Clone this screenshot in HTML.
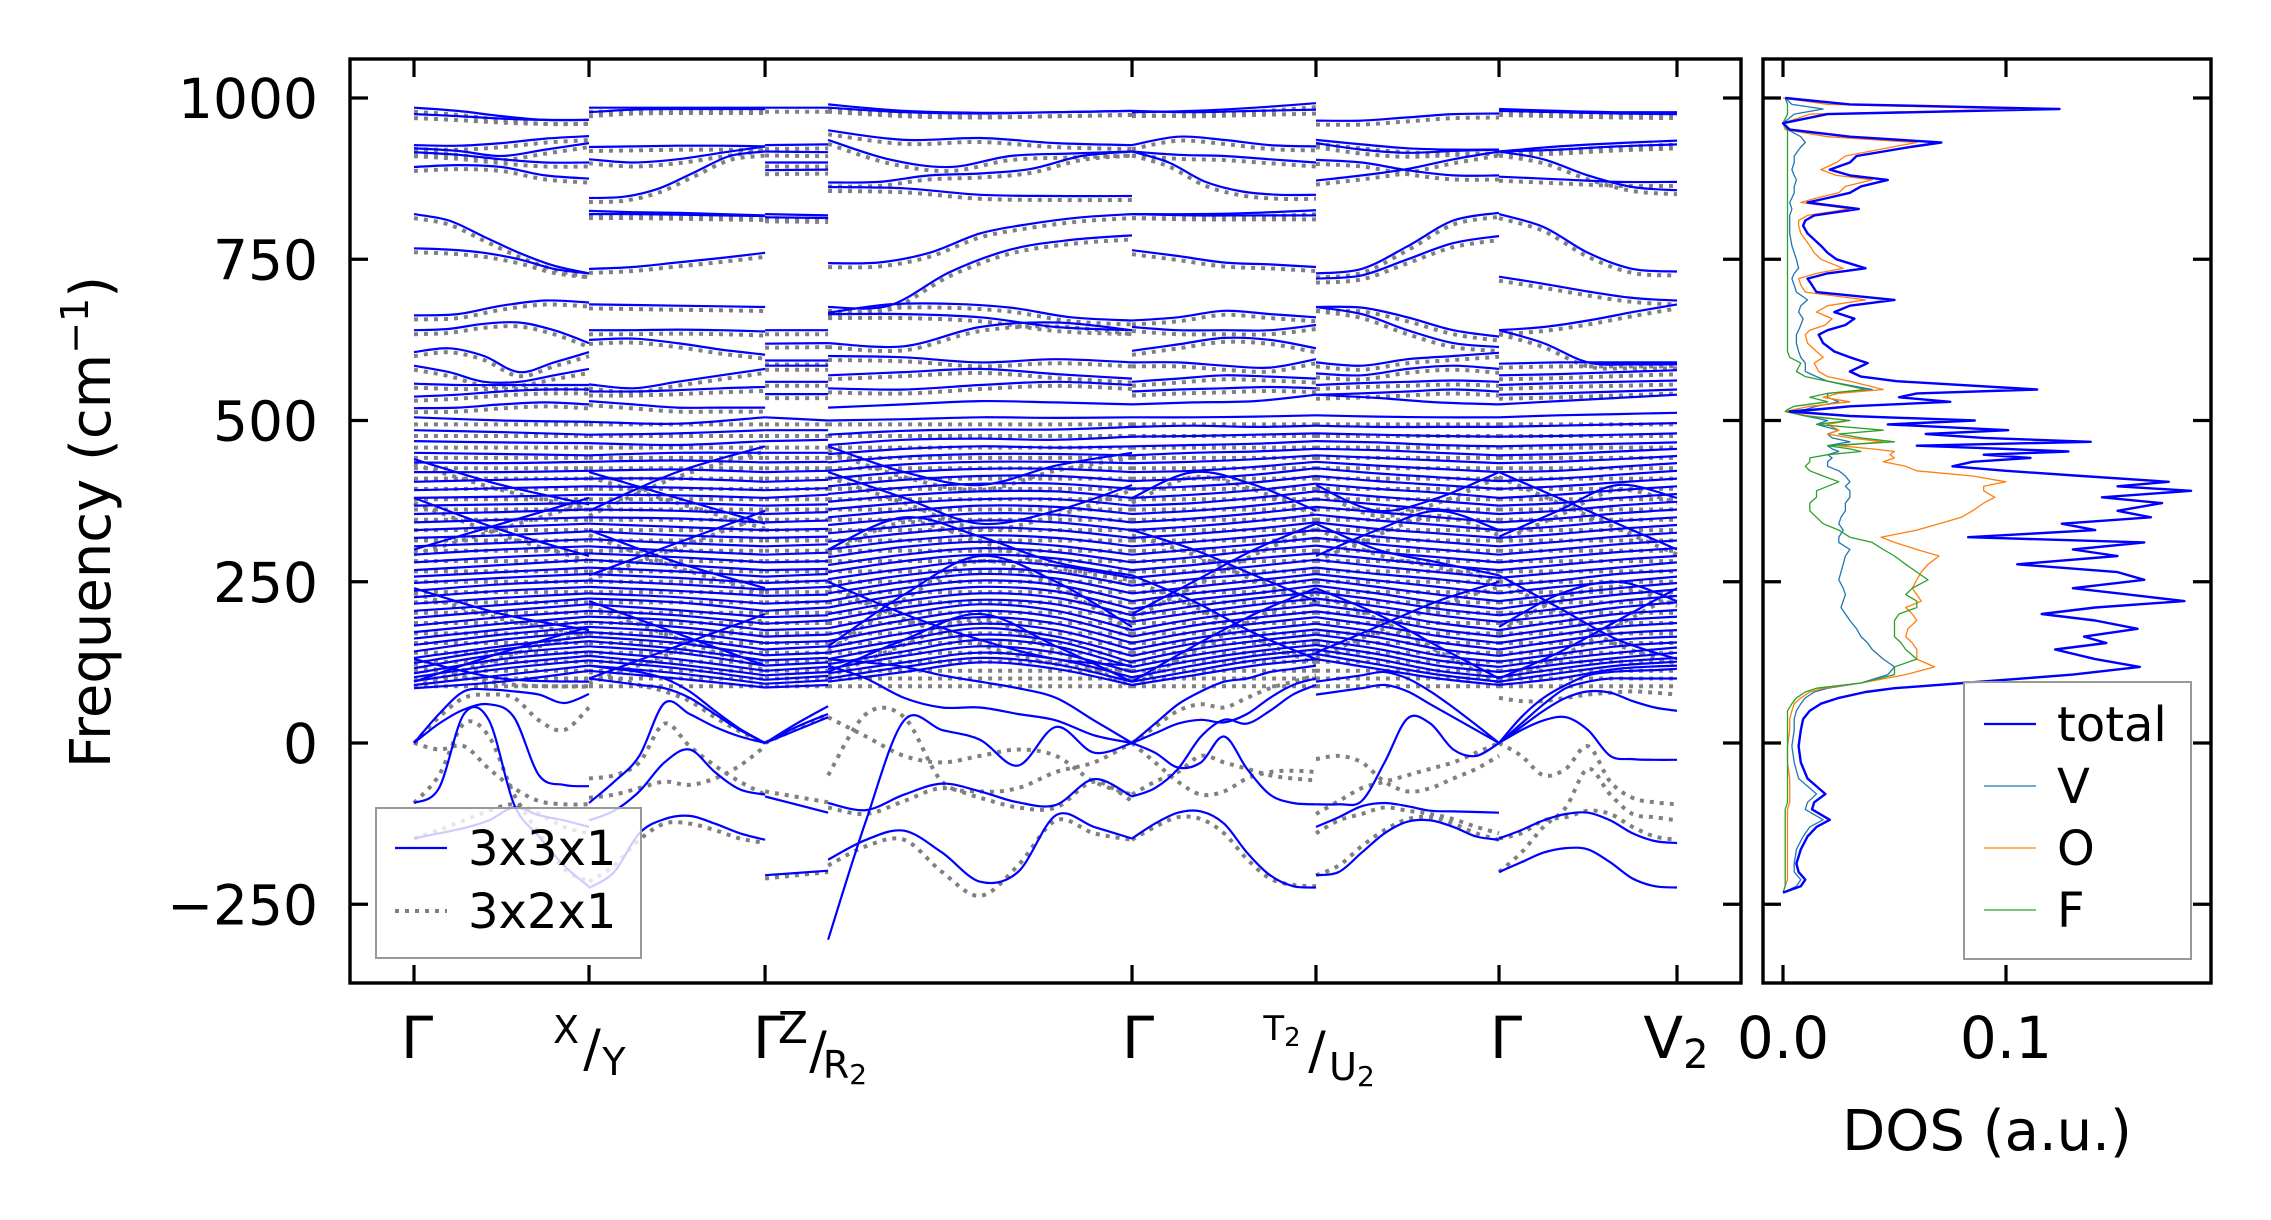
<!DOCTYPE html>
<html><head><meta charset="utf-8">
<style>
html,body{margin:0;padding:0;background:#fff;}
svg{display:block;font-family:"DejaVu Sans","Liberation Sans",sans-serif;}
</style></head>
<body>
<svg id="chart" xmlns="http://www.w3.org/2000/svg" width="2271" height="1220" viewBox="0 0 2271 1220">
<rect x="0" y="0" width="2271" height="1220" fill="#fff"/>
<defs>
<clipPath id="clipL"><rect x="350" y="59" width="1391" height="924"/></clipPath>
<clipPath id="clipR"><rect x="1763" y="59" width="448" height="924"/></clipPath>
</defs>
<g id="bandGray" clip-path="url(#clipL)"></g>
<g id="bandBlue" clip-path="url(#clipL)"></g>
<g id="dosG" clip-path="url(#clipR)"></g>
<g id="axes"></g>

<text x="0" y="0" transform="translate(110,522) rotate(-90)" text-anchor="middle" font-size="56">Frequency (cm<tspan dy="-22" font-size="38">−1</tspan><tspan dy="22">)</tspan></text>
<text x="1987" y="1150" text-anchor="middle" font-size="56">DOS (a.u.)</text>

<g font-size="58">
<text x="417" y="1058" text-anchor="middle">Γ</text>
<text x="566" y="1043" text-anchor="middle" font-size="38">X</text>
<text x="592" y="1066" text-anchor="middle" font-size="52">/</text>
<text x="614" y="1075" text-anchor="middle" font-size="38">Y</text>
<text x="769" y="1058" text-anchor="middle">Γ</text>
<text x="793" y="1043" text-anchor="middle" font-size="44">Z</text>
<text x="818" y="1068" text-anchor="middle" font-size="52">/</text>
<text x="845" y="1078" text-anchor="middle" font-size="38">R<tspan font-size="28" dy="6">2</tspan></text>
<text x="1138" y="1058" text-anchor="middle">Γ</text>
<text x="1282" y="1040" text-anchor="middle" font-size="34">T<tspan font-size="26" dy="6">2</tspan></text>
<text x="1317" y="1068" text-anchor="middle" font-size="52">/</text>
<text x="1352" y="1080" text-anchor="middle" font-size="38">U<tspan font-size="28" dy="6">2</tspan></text>
<text x="1506" y="1058" text-anchor="middle">Γ</text>
<text x="1676" y="1058" text-anchor="middle">V<tspan font-size="40" dy="10">2</tspan></text>
</g>

<g>
<rect x="376" y="808" width="265" height="150" fill="#fff" fill-opacity="0.8" stroke="#999" stroke-width="2"/>
<line x1="395" y1="848" x2="447" y2="848" stroke="#0000ff" stroke-width="2.2"/>
<text x="468" y="865" font-size="48">3x3x1</text>
<line x1="395" y1="911" x2="447" y2="911" stroke="#808080" stroke-width="4" stroke-dasharray="4 6"/>
<text x="468" y="928" font-size="48">3x2x1</text>
</g>

<g>
<rect x="1964" y="682" width="227" height="277" fill="#fff" fill-opacity="0.8" stroke="#999" stroke-width="2"/>
<line x1="1984" y1="724" x2="2036" y2="724" stroke="#0000ff" stroke-width="2.2"/>
<text x="2057" y="741" font-size="48">total</text>
<line x1="1984" y1="786" x2="2036" y2="786" stroke="#1f77b4" stroke-width="1.2"/>
<text x="2057" y="803" font-size="48">V</text>
<line x1="1984" y1="848" x2="2036" y2="848" stroke="#ff7f0e" stroke-width="1.2"/>
<text x="2057" y="865" font-size="48">O</text>
<line x1="1984" y1="910" x2="2036" y2="910" stroke="#2ca02c" stroke-width="1.2"/>
<text x="2057" y="927" font-size="48">F</text>
</g>
</svg>

<script>
// ---------- axis data ----------
const yTicks = [-250, 0, 250, 500, 750, 1000];
const yTickLabels = ["\u2212250", "0", "250", "500", "750", "1000"];
const kTicks = [0, 1, 2.006, 2.366, 4.103, 5.154, 6.2, 7.217];
const dosTicks = [0.0, 0.1];
const dosTickLabels = ["0.0", "0.1"];

const segments = [[0,1],[1,2],[2,3],[3,4],[4,5],[5,6],[6,7]];

// ---------- high-frequency bands per segment ----------
const highS1 = [[985,980,972,966,966],[975,972,968,966,966],[927,926,930,937,941],[922,918,910,920,930],[916,912,905,900,900],[893,896,893,880,875],[820,810,785,760,740,728],[767,765,760,750,735,728],[663,665,678,686,683],[640,642,650,652,640,620],[606,612,600,575,590,606],[585,575,560,560,570,580],[557,555,555,555,555],[537,540,545,548,548],[519,520,525,528,525]];
const highS2 = [[985,985,985,985,985],[978,982,983,983,983],[924,925,926,926,925],[905,900,905,915,925],[845,847,860,885,910,917],[820,820,819,818,817],[825,823,822,820,818],[735,738,745,752,760],[680,679,678,677,676],[640,640,641,640,638],[625,627,620,610,602],[556,550,560,570,580],[545,545,547,550,552],[530,525,520,520,520]];
const highS3 = [[985,985],[927,928],[917,916],[900,900],[888,889],[820,818],[815,814],[640,640],[619,620],[593,593],[585,585],[560,560],[541,541]];
const highS4 = [[990,980,977,978,980],[985,978,976,978,980],[950,935,938,930,927],[935,905,893,910,914,917],[869,870,880,883,890,910,917],[862,860,850,848,848],[744,745,760,790,805,815,820],[676,678,730,765,780,787],[667,680,681,675,660,655],[665,665,660,645,640],[620,615,645,652,640],[600,598,590,595,590],[570,575,580,572,565],[550,548,555,560,555]];
const highS5 = [[978,980,985,992],[980,978,980,982],[927,940,935,927,925],[917,912,910,905,900],[917,900,870,855,850,850],[820,820,822,826],[820,818,818,818],[764,755,745,742,738],[655,660,670,665,660],[645,640,640,640,648],[608,618,628,625,612],[590,590,585,582,595],[560,565,570,568,565],[545,548,550,552,550]];
const highS6 = [[965,965,970,975,976],[935,928,922,920,920],[930,920,915,918,920],[904,900,888,880,880],[872,880,890,905,917],[728,735,770,810,822],[720,725,750,775,786],[676,675,660,640,630],[676,665,640,620,614],[590,585,595,600,605],[573,570,580,585,580],[555,558,560,562,560],[540,542,545,548,545]];
const highS7 = [[980,978,976,975],[983,980,978,978],[917,925,930,934],[917,920,925,928],[878,874,870,870],[917,905,880,862,857],[820,800,760,735,731],[723,712,700,690,686],[640,645,655,668,680],[640,620,590,587,587],[588,590,590,590],[570,572,575,578],[555,558,560,562],[540,542,545,548]];
const highBands = [highS1, highS2, highS3, highS4, highS5, highS6, highS7];

// ---------- dense mid-frequency bands per segment ----------
const denseS1 = [[85,95,112],[90,105,120],[96,115,128],[102,122,135],[108,130,142],[116,138,150],[124,145,158],[132,150,165],[142,160,172],[152,168,180],[162,176,188],[172,185,196],[182,195,205],[194,205,215],[205,214,224],[216,225,232],[226,236,242],[236,246,252],[248,256,262],[258,265,272],[268,276,284],[280,288,294],[292,300,305],[305,310,316],[318,322,328],[330,335,340],[342,346,350],[355,358,362],[368,370,372],[380,382,385],[392,395,398],[405,408,410],[420,420,422],[435,434,436],[450,448,446],[468,466,465],[485,482,478],[505,500,498]];
const denseS2 = [[112,100,86],[120,108,92],[128,116,98],[135,122,105],[142,130,112],[150,140,120],[158,146,128],[165,155,136],[172,162,145],[180,172,155],[188,180,165],[196,190,175],[205,198,185],[215,206,195],[224,218,205],[232,226,216],[242,236,228],[252,246,238],[262,256,248],[272,266,258],[284,276,268],[294,288,280],[305,298,292],[316,310,305],[328,322,318],[340,335,330],[350,348,342],[362,360,355],[372,372,368],[385,384,380],[398,396,392],[410,410,405],[422,424,420],[436,438,435],[446,450,450],[465,462,468],[478,480,485],[498,495,505]];
const denseS3 = [[86,90],[92,97],[98,104],[105,110],[112,118],[120,125],[128,132],[136,140],[145,150],[155,158],[165,168],[175,178],[185,190],[195,198],[205,210],[216,220],[228,230],[238,242],[248,252],[258,262],[268,270],[280,282],[292,295],[305,308],[318,320],[330,332],[342,345],[355,358],[368,370],[380,385],[392,395],[405,408],[420,422],[435,436],[450,450],[468,470],[485,485],[505,500]];
const denseS4 = [[95,110,125,115,90],[100,118,132,122,95],[108,125,140,130,102],[115,135,150,140,110],[122,142,160,150,118],[130,152,168,158,125],[140,160,178,165,135],[148,170,185,175,145],[158,180,195,185,155],[168,190,205,195,165],[178,200,215,205,175],[190,210,222,215,188],[200,220,232,225,198],[210,230,242,235,208],[220,240,252,245,220],[232,250,262,255,232],[242,260,270,265,244],[254,270,282,275,256],[265,282,292,286,268],[276,292,302,296,280],[288,304,312,306,292],[300,314,322,318,305],[312,325,334,330,318],[325,336,345,342,330],[338,348,356,354,342],[350,360,368,366,355],[362,372,378,378,368],[374,384,390,390,380],[386,396,402,402,394],[398,408,414,414,406],[410,420,425,425,420],[422,432,436,436,434],[435,444,448,448,446],[448,456,460,458,460],[462,470,472,470,475],[478,484,486,486,490],[500,502,505,504,505],[520,525,530,528,525]];
const denseS5 = [[90,105,120,130],[95,112,128,138],[102,120,135,145],[110,128,142,152],[118,136,150,160],[126,145,158,168],[135,154,166,176],[145,162,175,185],[155,172,185,195],[165,182,194,204],[175,192,204,214],[188,202,214,224],[198,212,224,234],[208,222,232,244],[220,232,242,254],[232,242,252,262],[244,254,262,272],[256,265,274,284],[268,276,286,294],[280,288,298,306],[292,300,308,318],[305,312,320,330],[318,324,332,342],[330,336,344,354],[342,348,356,366],[355,360,368,378],[368,372,380,390],[380,385,392,402],[394,398,404,414],[406,410,416,426],[420,422,428,436],[434,436,440,446],[446,450,452,456],[460,462,464,468],[475,476,478,480],[490,492,490,492],[505,505,506,508],[525,528,530,540]];
const denseS6 = [[130,115,100,90],[138,122,106,95],[145,130,112,102],[152,138,120,110],[160,146,128,118],[168,155,136,126],[176,164,146,135],[185,172,156,145],[195,182,166,155],[204,192,176,165],[214,202,186,175],[224,212,198,188],[234,222,208,198],[244,232,218,208],[254,242,230,220],[262,252,242,232],[272,262,254,244],[284,274,265,256],[294,285,276,268],[306,296,288,280],[318,308,300,292],[330,320,312,305],[342,332,325,318],[354,345,338,330],[366,358,350,342],[378,370,362,355],[390,382,375,368],[402,394,388,380],[414,406,400,394],[426,418,412,406],[436,430,425,420],[446,442,438,434],[456,454,450,446],[468,466,462,460],[480,478,476,475],[492,490,490,490],[508,506,505,505],[540,535,528,525]];
const denseS7 = [[90,100,115,120],[95,108,120,126],[102,115,126,132],[110,122,132,140],[118,130,140,148],[126,138,150,156],[135,148,160,165],[145,158,170,175],[155,168,180,186],[165,178,190,196],[175,188,200,206],[188,198,210,218],[198,208,220,228],[208,220,230,238],[220,230,240,248],[232,242,250,258],[244,252,262,268],[256,264,272,280],[268,276,284,290],[280,288,296,302],[292,300,308,314],[305,312,320,326],[318,324,332,338],[330,336,344,350],[342,348,356,362],[355,360,368,374],[368,372,380,386],[380,385,392,398],[394,398,404,410],[406,410,416,422],[420,422,428,434],[434,436,440,445],[446,448,452,456],[460,462,464,466],[475,476,478,480],[490,492,494,496],[505,508,510,512],[525,530,535,540]];
const denseBands = [denseS1, denseS2, denseS3, denseS4, denseS5, denseS6, denseS7];

// crossing bands that cut through the dense region
const crossS1 = [[95,140,180],[130,100,95],[240,200,175],[300,340,380],[380,330,290],[440,400,370]];
const crossS2 = [[100,150,200],[220,170,120],[330,280,240],[260,310,360],[420,380,340],[360,420,460]];
const crossS3 = [];
const crossS4 = [[110,160,200,150,95],[250,200,160,130,120],[300,350,320,280,260],[420,380,340,360,400],[150,230,290,250,180],[460,420,400,430,450]];
const crossS5 = [[95,150,200,240],[260,220,170,130],[330,300,260,220],[380,420,400,360],[200,250,300,340]];
const crossS6 = [[240,200,150,100],[140,180,220,250],[340,300,280,260],[400,360,380,420],[290,330,360,330]];
const crossS7 = [[100,140,190,240],[260,210,160,130],[320,360,400,380],[420,380,340,300],[180,230,250,220]];
const crossBands = [crossS1, crossS2, crossS3, crossS4, crossS5, crossS6, crossS7];

const grayLevels = [88,100,112,126,140,155,170,186,202,218,234,250,266,282,298,314,330,346,362,378,394,410,426,442,458,476,494];

// ---------- low-frequency (soft) modes ----------
const lowBlueS1 = [[0,45,80,83,80,75,62,76],[0,30,52,60,40,-50,-65,-67],[-93,-70,45,35,-95,-145,-190,-223],[-148,-140,-132,-120,-100,-112,-120,-130]];
const lowBlueS2 = [[-93,-60,-20,62,45,25,10,0],[-120,-105,-75,-30,-10,-45,-72,-80],[-225,-200,-140,-118,-113,-125,-140,-150],[100,95,90,85,70,45,20,0],[120,115,110,100,80,50,22,0]];
const lowBlueS3 = [[0,30,57],[0,25,45],[0,20,40],[-83,-108],[-205,-198]];
const lowBlueS4 = [[-305,-120,35,20,5,-35,25,-15,0],[-93,-104,-80,-63,-75,-92,-96,-56,-83],[-181,-150,-136,-170,-215,-200,-112,-130,-148],[120,100,70,55,55,45,35,12,0],[130,125,118,105,95,85,70,35,0]];
const lowBlueS5 = [[0,-15,-38,-30,10,-40,-80,-93,-95],[-83,-70,-40,10,36,30,50,75,90],[-148,-125,-108,-106,-125,-170,-205,-222,-224],[0,30,60,80,95,100,110,115,120],[0,15,30,36,32,45,70,90,100]];
const lowBlueS6 = [[-95,-95,-90,-30,38,30,-10,-20,0],[-130,-115,-98,-93,-98,-105,-106,-107,-108],[-205,-200,-170,-140,-122,-120,-130,-145,-150],[95,100,105,110,100,80,55,28,0],[75,80,85,90,80,60,40,20,0]];
const lowBlueS7 = [[0,25,50,70,80,78,65,55,50],[0,20,35,40,20,-20,-25,-26,-26],[-148,-135,-120,-110,-108,-120,-140,-152,-155],[-200,-185,-170,-163,-165,-185,-210,-222,-224],[0,30,60,85,95,100,100,100,100],[0,40,70,90,105,110,112,113,115]];
const lowBlue = [lowBlueS1, lowBlueS2, lowBlueS3, lowBlueS4, lowBlueS5, lowBlueS6, lowBlueS7];

const lowGrayS1 = [[0,-10,-5,-40,-70,-90,-95,-95],[0,40,70,75,70,35,20,55],[-148,-135,-120,-105,-95,-110,-130,-140],[-93,-50,30,10,-80,-140,-195,-215]];
const lowGrayS2 = [[-55,-50,-30,30,-5,-35,-60,-80],[-85,-80,-70,-60,-65,-55,-35,-5],[-215,-190,-150,-125,-125,-135,-148,-155],[110,100,90,80,65,40,18,0]];
const lowGrayS3 = [[-75,-92],[0,22,45],[-210,-200]];
const lowGrayS4 = [[-50,45,40,-60,-75,-70,-45,-30,0],[-190,-160,-150,-200,-237,-190,-120,-140,-150],[40,10,-20,-30,-20,-10,-20,-60,-80],[-100,-110,-90,-70,-85,-100,-100,-60,-90]];
const lowGrayS5 = [[-150,-130,-115,-118,-140,-180,-210,-220,-222],[-80,-60,-45,-20,-30,-40,-50,-55,-58],[0,-30,-60,-80,-75,-55,-45,-43,-45],[0,25,50,60,55,70,85,95,105]];
const lowGrayS6 = [[-110,-90,-70,-60,-50,-40,-30,-15,0],[-140,-120,-110,-100,-105,-110,-118,-130,-140],[-205,-190,-160,-135,-118,-115,-125,-140,-150],[-25,-20,-30,-60,-75,-70,-55,-40,-20]];
const lowGrayS7 = [[-148,-140,-120,-115,-105,-110,-130,-145,-150],[0,-20,-50,-40,-5,-60,-85,-92,-95],[-200,-170,-130,-100,-40,-80,-110,-115,-120],[70,65,65,70,75,78,80,78,75]];
const lowGray = [lowGrayS1, lowGrayS2, lowGrayS3, lowGrayS4, lowGrayS5, lowGrayS6, lowGrayS7];

// ---------- DOS data ----------
const dosFreq = [1000,990,983,975,961,951,940,931,924,910, 900,889,880,873,863,853,845,838,828,818, 810,802,790,771,760,750,736,728,720,710, 699,687,678,668,658,648,640,633,620,607, 598,589,576,568,561,548,542,536,529,522, 517,514,507,500,494,485,479,473,467,461, 456,452,447,442,436,429,422,414,405,398, 391,381,372,360,350,340,330,319,311,300, 290,277,265,253,240,230,220,210,200,190, 177,165,155,145,130,118,106,93,85,79, 70,61,50,37,20,-5,-30,-55,-79,-92, -103,-119,-130,-145,-165,-187,-200,-212,-222,-232];
const dosTotal = [0.001,0.03,0.124,0.02,0.0,0.003,0.03,0.071,0.057,0.033, 0.03,0.021,0.03,0.047,0.035,0.030,0.02,0.011,0.034,0.014, 0.01,0.009,0.011,0.017,0.02,0.024,0.037,0.02,0.011,0.013, 0.015,0.05,0.03,0.023,0.032,0.028,0.02,0.016,0.018,0.023, 0.03,0.038,0.03,0.035,0.051,0.114,0.06,0.052,0.075,0.03, 0.015,0.003,0.03,0.086,0.047,0.101,0.064,0.09,0.138,0.06, 0.1,0.128,0.09,0.111,0.085,0.076,0.1,0.134,0.173,0.15, 0.183,0.143,0.17,0.15,0.165,0.125,0.14,0.083,0.162,0.13, 0.15,0.105,0.15,0.162,0.13,0.155,0.18,0.14,0.116,0.14, 0.159,0.135,0.145,0.122,0.14,0.16,0.13,0.081,0.05,0.037, 0.025,0.017,0.012,0.009,0.008,0.007,0.008,0.011,0.019,0.014, 0.013,0.021,0.015,0.011,0.008,0.006,0.007,0.01,0.008,0.0];
const dosV = [0.001,0.004,0.018,0.005,0.0,0.002,0.008,0.01,0.008,0.005, 0.005,0.004,0.005,0.006,0.005,0.005,0.004,0.003,0.004,0.003, 0.003,0.003,0.003,0.004,0.005,0.006,0.007,0.005,0.004,0.005, 0.006,0.011,0.008,0.007,0.009,0.008,0.007,0.006,0.006,0.007, 0.008,0.01,0.01,0.015,0.02,0.04,0.02,0.02,0.025,0.015, 0.01,0.002,0.01,0.02,0.015,0.025,0.02,0.022,0.03,0.02, 0.022,0.025,0.02,0.022,0.02,0.02,0.025,0.028,0.03,0.028, 0.03,0.03,0.028,0.028,0.026,0.025,0.027,0.025,0.025,0.03, 0.028,0.027,0.026,0.025,0.027,0.028,0.027,0.026,0.028,0.03, 0.033,0.035,0.038,0.04,0.045,0.05,0.047,0.035,0.02,0.014, 0.01,0.008,0.006,0.005,0.005,0.004,0.005,0.007,0.015,0.011, 0.01,0.018,0.012,0.009,0.006,0.005,0.005,0.008,0.006,0.0];
const dosO = [0.0,0.02,0.104,0.012,0.0,0.001,0.02,0.06,0.049,0.028, 0.024,0.017,0.024,0.04,0.028,0.025,0.015,0.008,0.03,0.011, 0.007,0.007,0.008,0.012,0.014,0.017,0.027,0.015,0.007,0.008, 0.01,0.037,0.02,0.015,0.022,0.019,0.012,0.01,0.011,0.015, 0.018,0.014,0.016,0.02,0.03,0.045,0.025,0.018,0.03,0.012, 0.005,0.001,0.012,0.03,0.02,0.025,0.02,0.03,0.045,0.025, 0.04,0.05,0.048,0.05,0.045,0.055,0.06,0.085,0.1,0.09, 0.09,0.095,0.09,0.085,0.08,0.07,0.06,0.044,0.05,0.06, 0.07,0.065,0.062,0.06,0.058,0.06,0.062,0.055,0.058,0.06, 0.056,0.055,0.058,0.06,0.06,0.068,0.055,0.035,0.018,0.012, 0.008,0.005,0.004,0.003,0.003,0.002,0.002,0.003,0.003,0.003, 0.002,0.002,0.002,0.002,0.002,0.002,0.002,0.002,0.001,0.0];
const dosF = [0.001,0.002,0.002,0.002,0.0,0.002,0.002,0.002,0.002,0.002, 0.002,0.002,0.002,0.002,0.002,0.002,0.002,0.002,0.002,0.002, 0.002,0.002,0.002,0.002,0.002,0.002,0.002,0.002,0.002,0.002, 0.002,0.002,0.002,0.002,0.002,0.002,0.002,0.002,0.002,0.002, 0.003,0.008,0.006,0.01,0.02,0.037,0.02,0.012,0.02,0.005, 0.002,0.001,0.01,0.03,0.015,0.045,0.025,0.035,0.05,0.02, 0.03,0.035,0.02,0.012,0.012,0.01,0.012,0.018,0.025,0.02, 0.015,0.015,0.012,0.012,0.015,0.018,0.025,0.03,0.04,0.045, 0.05,0.055,0.06,0.065,0.058,0.055,0.06,0.06,0.052,0.05, 0.05,0.05,0.053,0.055,0.06,0.05,0.05,0.035,0.015,0.01, 0.006,0.004,0.002,0.002,0.002,0.002,0.002,0.002,0.002,0.002, 0.001,0.001,0.001,0.001,0.001,0.001,0.001,0.001,0.001,0.0];

// ---------- layout / scales ----------
const NS = "http://www.w3.org/2000/svg";
const L = {x0:350, x1:1741, y0:59, y1:983};
const R = {x0:1763, x1:2211};
function yV(v){ return 743 - 0.645*v; }
function xK(k){ return 414 + k*(1677-414)/7.217; }
function xD(d){ return 1783 + d*2230; }

function smoothPath(pts){
  let d = "M" + pts[0][0].toFixed(1) + "," + pts[0][1].toFixed(1);
  for(let i=0;i<pts.length-1;i++){
    const p0 = pts[Math.max(0,i-1)], p1 = pts[i], p2 = pts[i+1], p3 = pts[Math.min(pts.length-1,i+2)];
    const c1x = p1[0] + (p2[0]-p0[0])/6, c1y = p1[1] + (p2[1]-p0[1])/6;
    const c2x = p2[0] - (p3[0]-p1[0])/6, c2y = p2[1] - (p3[1]-p1[1])/6;
    d += " C" + c1x.toFixed(1)+","+c1y.toFixed(1)+" "+c2x.toFixed(1)+","+c2y.toFixed(1)+" "+p2[0].toFixed(1)+","+p2[1].toFixed(1);
  }
  return d;
}
function bandPoints(segIdx, vals){
  const ka = kTicks[segments[segIdx][0]], kb = kTicks[segments[segIdx][1]];
  return vals.map((v,i)=>[xK(ka + (kb-ka)*i/(vals.length-1)), yV(v)]);
}
const gGray = document.getElementById('bandGray');
const gBlue = document.getElementById('bandBlue');
function addBand(parent, segIdx, vals, kind, shift){
  const p = document.createElementNS(NS,'path');
  p.setAttribute('d', smoothPath(bandPoints(segIdx, vals)));
  p.setAttribute('fill','none');
  if(kind==='blue'){
    p.setAttribute('stroke','#0000ff'); p.setAttribute('stroke-width','2.2');
    
  } else {
    p.setAttribute('stroke','#808080'); p.setAttribute('stroke-width','4');
    p.setAttribute('stroke-dasharray','4 6');
    
  }
  
  if(shift) p.setAttribute('transform','translate(0,'+shift+')');
  parent.appendChild(p);
}
for(let s=0;s<segments.length;s++){
  grayLevels.forEach(v=>addBand(gGray, s, [v, v], 'gray', 0));
  highBands[s].forEach(b=>addBand(gGray, s, b, 'gray', 4));
  crossBands[s].forEach(b=>addBand(gGray, s, b, 'gray', 5));
  lowGray[s].forEach(b=>addBand(gGray, s, b, 'gray', 0));
  denseBands[s].forEach(b=>addBand(gBlue, s, b, 'blue', 0));
  crossBands[s].forEach(b=>addBand(gBlue, s, b, 'blue', 0));
  highBands[s].forEach(b=>addBand(gBlue, s, b, 'blue', 0));
  lowBlue[s].forEach(b=>addBand(gBlue, s, b, 'blue', 0));
}

// ---------- DOS curves ----------
const dosG = document.getElementById('dosG');
function addDos(vals, color, width, name){
  const pl = document.createElementNS(NS,'polyline');
  pl.setAttribute('points', vals.map((d,i)=>xD(d).toFixed(1)+","+yV(dosFreq[i]).toFixed(1)).join(" "));
  pl.setAttribute('fill','none');
  pl.setAttribute('stroke', color);
  pl.setAttribute('stroke-width', width);
  pl.setAttribute('stroke-linejoin','round');
  
  
  dosG.appendChild(pl);
}
addDos(dosV, '#1f77b4', 1.3, 'dos-v');
addDos(dosO, '#ff7f0e', 1.3, 'dos-o');
addDos(dosF, '#2ca02c', 1.3, 'dos-f');
addDos(dosTotal, '#0000ff', 2.4, 'dos-total');

// ---------- axes ----------
const ax = document.getElementById('axes');
function line(x1,y1,x2,y2,w,name){
  const l = document.createElementNS(NS,'line');
  l.setAttribute('x1',x1); l.setAttribute('y1',y1); l.setAttribute('x2',x2); l.setAttribute('y2',y2);
  l.setAttribute('stroke','#000'); l.setAttribute('stroke-width',w);
  
  
  ax.appendChild(l);
}
function text(x,y,str,size,anchor,name){
  const t = document.createElementNS(NS,'text');
  t.setAttribute('x',x); t.setAttribute('y',y); t.setAttribute('font-size',size);
  t.setAttribute('text-anchor',anchor); t.textContent = str;
  
  
  ax.appendChild(t);
}
const TL = 18;
yTicks.forEach((v,i)=>{
  const y = yV(v);
  line(L.x0, y, L.x0+TL, y, 3.2, 'y-tick');
  line(L.x1-TL, y, L.x1, y, 3.2, 'y-tick-right');
  text(318, y+20, yTickLabels[i], 55, 'end', 'y-tick-label');
  line(R.x0, y, R.x0+TL, y, 3.2, 'dos-y-tick');
  line(R.x1-TL, y, R.x1, y, 3.2, 'dos-y-tick-right');
});
kTicks.forEach((k,i)=>{
  if(i===3) return;
  const x = xK(k);
  line(x, L.y1-TL, x, L.y1, 3.2, 'x-tick');
  line(x, L.y0, x, L.y0+TL, 3.2, 'x-tick-top');
});
dosTicks.forEach((d,i)=>{
  const x = xD(d);
  line(x, L.y1-TL, x, L.y1, 3.2, 'dos-x-tick');
  line(x, L.y0, x, L.y0+TL, 3.2, 'dos-x-tick-top');
  text(x, 1058, dosTickLabels[i], 58, 'middle', 'dos-x-tick-label');
});
function frame(x0,y0,x1,y1,name){
  const r = document.createElementNS(NS,'rect');
  r.setAttribute('x',x0); r.setAttribute('y',y0); r.setAttribute('width',x1-x0); r.setAttribute('height',y1-y0);
  r.setAttribute('fill','none'); r.setAttribute('stroke','#000'); r.setAttribute('stroke-width','3.4');
  
  
  ax.appendChild(r);
}
frame(L.x0, L.y0, L.x1, L.y1, 'band-plot-frame');
frame(R.x0, L.y0, R.x1, L.y1, 'dos-plot-frame');
</script>
</body></html>
